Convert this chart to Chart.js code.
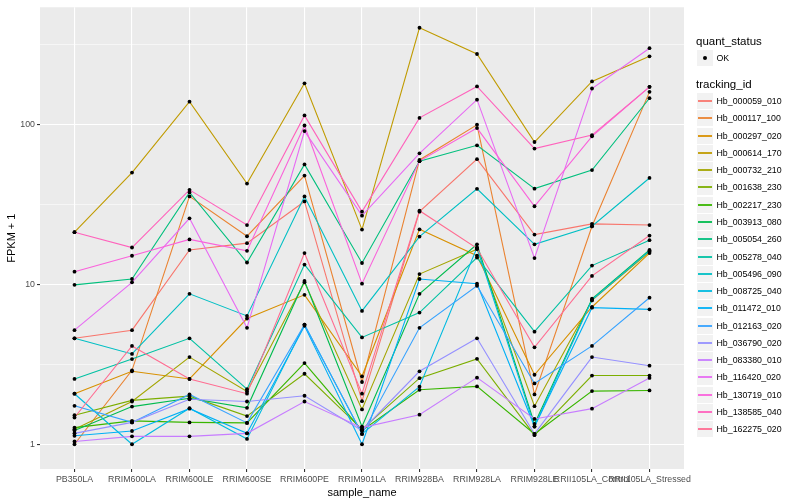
<!DOCTYPE html>
<html><head><meta charset="utf-8">
<script src="https://cdn.jsdelivr.net/npm/chart.js@4.4.0/dist/chart.umd.min.js"></script>
<style>
html,body{margin:0;padding:0;background:#fff;}
#wrap{position:relative;width:800px;height:500px;font-family:"Liberation Sans",Arial,Helvetica,sans-serif;overflow:hidden;}
#c{position:absolute;left:0;top:0;}
.lg{position:absolute;white-space:nowrap;color:#000;}
.key{position:absolute;background:#F2F2F2;}
</style></head><body>
<div id="wrap"><canvas id="c" width="800" height="500" style="width:800px;height:500px"></canvas><div id="legend"></div></div>
<script>
// ---- data ----
const samples = ["PB350LA","RRIM600LA","RRIM600LE","RRIM600SE","RRIM600PE","RRIM901LA","RRIM928BA","RRIM928LA","RRIM928LE","RRII105LA_Control","RRII105LA_Stressed"];
const trackingIds = ["Hb_000059_010","Hb_000117_100","Hb_000297_020","Hb_000614_170","Hb_000732_210","Hb_001638_230","Hb_002217_230","Hb_003913_080","Hb_005054_260","Hb_005278_040","Hb_005496_090","Hb_008725_040","Hb_011472_010","Hb_012163_020","Hb_036790_020","Hb_083380_010","Hb_116420_020","Hb_130719_010","Hb_138585_040","Hb_162275_020"];
const seriesColors = ["#F8766D","#EA8331","#D89000","#C09B00","#A3A500","#7CAE00","#39B600","#00BB4E","#00BF7D","#00C1A3","#00BFC4","#00BAE0","#00B0F6","#35A2FF","#9590FF","#C77CFF","#E76BF3","#FA62DB","#FF62BC","#FF6C91"];
const yTickLabels = [1, 10, 100];
const quantStatus = ["OK"];

const hb_000059_010 = [4.6, 5.17, 16.4, 18.1, 33, 1.86, 28.5, 60.7, 20.5, 23.9, 23.5];
const hb_000117_100 = [1.0, 2.9, 35.5, 20.0, 47.9, 2.45, 60, 99.6, 2.05, 23.1, 160];
const hb_000297_020 = [2.07, 2.86, 2.56, 6.11, 8.6, 2.66, 22.1, 15.1, 2.72, 7.22, 15.7];
const hb_000614_170 = [21.2, 50, 139, 42.7, 181, 22, 403, 276, 77.7, 186, 267];
const hb_000732_210 = [1.24, 1.85, 3.51, 2.14, 10.3, 1.65, 11.6, 16.6, 1.73, 7.94, 16.0];
const hb_001638_230 = [1.52, 1.88, 2.0, 1.50, 2.76, 1.24, 2.59, 3.42, 1.14, 2.69, 2.69];
const hb_002217_230 = [1.27, 1.40, 1.37, 1.36, 3.22, 1.22, 2.19, 2.30, 1.16, 2.15, 2.17];
const hb_003913_080 = [1.22, 1.72, 1.94, 1.69, 10.5, 1.29, 8.73, 17.8, 1.34, 8.13, 16.4];
const hb_005054_260 = [9.93, 10.8, 37.6, 13.7, 56.3, 13.6, 59, 74.1, 39.7, 51.9, 146];
const hb_005278_040 = [2.56, 3.41, 4.6, 2.21, 13.3, 4.66, 6.66, 14.7, 5.06, 13.1, 18.9];
const hb_005496_090 = [4.6, 3.67, 8.73, 6.35, 35.5, 6.82, 19.9, 39.6, 17.8, 23.1, 46.3];
const hb_008725_040 = [2.07, 1.0, 1.68, 1.08, 5.6, 1.16, 2.29, 17.0, 1.29, 8.0, 16.2];
const hb_011472_010 = [1.13, 1.21, 1.67, 1.17, 5.5, 1.0, 10.8, 10.1, 1.29, 7.15, 6.98];
const hb_012163_020 = [1.74, 1.37, 2.05, 1.36, 5.6, 1.16, 5.35, 9.8, 2.40, 4.12, 8.25];
const hb_036790_020 = [1.17, 1.37, 1.91, 1.85, 2.01, 1.22, 2.86, 4.6, 1.16, 3.51, 3.10];
const hb_083380_010 = [1.04, 1.12, 1.12, 1.17, 1.85, 1.27, 1.53, 2.61, 1.44, 1.67, 2.60];
const hb_116420_020 = [5.17, 10.3, 25.9, 5.35, 90.9, 26.9, 66, 143, 14.6, 168, 300];
const hb_130719_010 = [12, 15.1, 19.1, 16.2, 98.6, 10.1, 59, 95, 30.8, 84.3, 172];
const hb_138585_040 = [21.2, 17, 39, 23.5, 114, 28.5, 110, 173, 70.7, 85.9, 172];
const hb_162275_020 = [1.47, 4.12, 2.56, 2.07, 15.7, 2.07, 28.9, 16.8, 4.04, 11.3, 20.2];

const seriesValues = [hb_000059_010, hb_000117_100, hb_000297_020, hb_000614_170, hb_000732_210, hb_001638_230, hb_002217_230, hb_003913_080, hb_005054_260, hb_005278_040, hb_005496_090, hb_008725_040, hb_011472_010, hb_012163_020, hb_036790_020, hb_083380_010, hb_116420_020, hb_130719_010, hb_138585_040, hb_162275_020];

// ---- chart ----
const FONT = '"Liberation Sans", Arial, Helvetica, sans-serif';
const yMin = 0.731, yMax = 541;
const majorTicks = yTickLabels;
const minorTicks = yTickLabels.map(v => v * Math.sqrt(10));
const allYTicks = majorTicks.concat(minorTicks).sort((a, b) => a - b);
const isMajor = v => majorTicks.some(m => Math.abs(m - v) < 1e-9);

const lineSets = seriesValues.map((vals, i) => ({
  type: 'line', label: trackingIds[i],
  data: vals.map((v, j) => ({x: j, y: v})),
  borderColor: seriesColors[i], backgroundColor: seriesColors[i],
  borderWidth: 1.1, pointRadius: 0, pointHoverRadius: 0, fill: false, tension: 0,
  order: 100 - i
}));
const pointSets = seriesValues.map((vals, i) => ({
  type: 'line', label: trackingIds[i] + ' (OK)',
  data: vals.map((v, j) => ({x: j, y: v})),
  showLine: false, pointRadius: 1.9, pointHoverRadius: 1.9,
  pointBackgroundColor: '#000', pointBorderWidth: 0, borderColor: '#000',
  order: 0
}));

const panelBg = {
  id: 'panelBg',
  beforeDraw(chart) {
    const {ctx, chartArea: a} = chart;
    ctx.save();
    ctx.fillStyle = '#EBEBEB';
    ctx.fillRect(a.left, a.top, a.right - a.left, a.bottom - a.top);
    ctx.restore();
  }
};

new Chart(document.getElementById('c'), {
  type: 'line',
  data: {datasets: pointSets.concat(lineSets)},
  plugins: [panelBg],
  options: {
    responsive: false, animation: false,
    layout: {padding: {left: 0, right: 116, top: 5, bottom: 0}},
    plugins: {legend: {display: false}, tooltip: {enabled: false}},
    scales: {
      x: {
        type: 'linear', min: -0.6, max: 10.6,
        afterBuildTicks: s => { s.ticks = samples.map((_, i) => ({value: i})); },
        afterFit: s => { s.height = 31; },
        ticks: {autoSkip: false, maxRotation: 0, minRotation: 0, color: '#4D4D4D',
          font: {size: 8.8, family: FONT}, padding: 2,
          callback: v => samples[v]},
        grid: {color: '#FFFFFF', lineWidth: 1.1, tickLength: 3, tickColor: '#333333', drawTicks: true},
        border: {display: false},
        title: {display: true, text: 'sample_name', color: '#000', font: {size: 11, family: FONT}, padding: {top: 1.5, bottom: 0}}
      },
      y: {
        type: 'logarithmic', min: yMin, max: yMax,
        afterBuildTicks: s => { s.ticks = allYTicks.map(v => ({value: v, major: isMajor(v)})); },
        afterFit: s => { s.width = 40; },
        ticks: {color: '#4D4D4D', font: {size: 8.8, family: FONT}, padding: 2,
          callback: v => isMajor(v) ? String(v) : ''},
        grid: {
          color: '#FFFFFF',
          lineWidth: c => (c.tick && isMajor(c.tick.value)) ? 1.1 : 0.55,
          tickLength: 3,
          tickColor: c => (c.tick && isMajor(c.tick.value)) ? '#333333' : 'rgba(0,0,0,0)'
        },
        border: {display: false},
        title: {display: true, text: 'FPKM + 1', color: '#000', font: {size: 11, family: FONT}, padding: {top: 5, bottom: 0}}
      }
    }
  }
});

// ---- legend (HTML text) ----
const lg = document.getElementById('legend');
function addText(txt, left, cy, size) {
  const d = document.createElement('div');
  d.className = 'lg';
  d.textContent = txt;
  d.style.left = left + 'px';
  d.style.top = Math.round(cy - 8) + 'px';
  d.style.height = '16px';
  d.style.lineHeight = '16px';
  d.style.fontSize = size + 'px';
  lg.appendChild(d);
}
function addKey(cy) {
  const k = document.createElement('div');
  k.className = 'key';
  k.style.left = '697px';
  k.style.top = Math.round(cy - 8) + 'px';
  k.style.width = '16px';
  k.style.height = '16px';
  lg.appendChild(k);
  return k;
}
addText('quant_status', 696, 40.7, 11.5);
quantStatus.forEach((q, i) => {
  const cy = 57.5 + i * 17.28;
  const k = addKey(cy);
  const dot = document.createElement('div');
  dot.style.cssText = 'position:absolute;left:6px;top:6px;width:4px;height:4px;border-radius:50%;background:#000;';
  k.appendChild(dot);
  addText(q, 716.5, cy, 8.8);
});
addText('tracking_id', 696, 84.3, 11.5);
trackingIds.forEach((id, i) => {
  const cy = 101 + i * 17.28;
  const k = addKey(cy);
  const ln = document.createElement('div');
  ln.style.cssText = 'position:absolute;left:1px;width:14px;top:7px;height:2px;opacity:0.9;background:' + seriesColors[i] + ';';
  k.appendChild(ln);
  addText(id, 716.5, cy, 8.8);
});
</script>
</body></html>
